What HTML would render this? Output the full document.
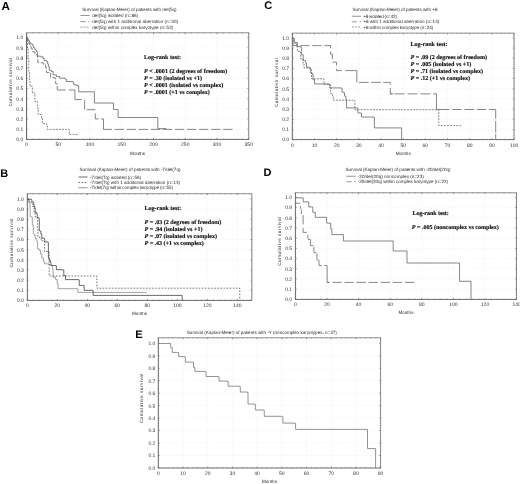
<!DOCTYPE html>
<html><head><meta charset="utf-8"><title>Figure</title>
<style>html,body{margin:0;padding:0;background:#fff}svg{display:block}text{white-space:pre;text-rendering:geometricPrecision}.s{font-family:"Liberation Sans",sans-serif;font-size:4.6px;fill:#2c2c2c}.t{font-family:"Liberation Sans",sans-serif;font-size:5px;fill:#303030}.b{font-family:"Liberation Sans",sans-serif;font-weight:bold}.r{font-family:"Liberation Serif",serif;font-weight:bold;font-size:6.1px;fill:#111;stroke:#111;stroke-width:0.15px}</style></head><body>
<svg width="520" height="484" viewBox="0 0 520 484">
<rect width="520" height="484" fill="#fff"/>
<defs><filter id="f" x="0" y="0" width="520" height="484" filterUnits="userSpaceOnUse"><feGaussianBlur stdDeviation="0.3"/></filter></defs>
<g filter="url(#f)">
<text class="b" x="1.50" y="9.90" style="font-size:11.6px" fill="#000">A</text>
<text class="b" x="0.30" y="177.30" style="font-size:11px" fill="#000">B</text>
<text class="b" x="264.30" y="8.70" style="font-size:11px" fill="#000">C</text>
<text class="b" x="263.40" y="176.10" style="font-size:11px" fill="#000">D</text>
<text class="b" x="135.30" y="337.60" style="font-size:11px" fill="#000">E</text>
<line x1="58.25" y1="32.75" x2="58.25" y2="139.40" stroke="#efefef" stroke-width="0.6" stroke-dasharray="0.7 0.7"/>
<line x1="90.00" y1="32.75" x2="90.00" y2="139.40" stroke="#efefef" stroke-width="0.6" stroke-dasharray="0.7 0.7"/>
<line x1="121.75" y1="32.75" x2="121.75" y2="139.40" stroke="#efefef" stroke-width="0.6" stroke-dasharray="0.7 0.7"/>
<line x1="153.50" y1="32.75" x2="153.50" y2="139.40" stroke="#efefef" stroke-width="0.6" stroke-dasharray="0.7 0.7"/>
<line x1="185.25" y1="32.75" x2="185.25" y2="139.40" stroke="#efefef" stroke-width="0.6" stroke-dasharray="0.7 0.7"/>
<line x1="217.00" y1="32.75" x2="217.00" y2="139.40" stroke="#efefef" stroke-width="0.6" stroke-dasharray="0.7 0.7"/>
<line x1="26.50" y1="129.22" x2="248.75" y2="129.22" stroke="#efefef" stroke-width="0.6" stroke-dasharray="0.7 0.7"/>
<line x1="26.50" y1="119.04" x2="248.75" y2="119.04" stroke="#efefef" stroke-width="0.6" stroke-dasharray="0.7 0.7"/>
<line x1="26.50" y1="108.86" x2="248.75" y2="108.86" stroke="#efefef" stroke-width="0.6" stroke-dasharray="0.7 0.7"/>
<line x1="26.50" y1="98.68" x2="248.75" y2="98.68" stroke="#efefef" stroke-width="0.6" stroke-dasharray="0.7 0.7"/>
<line x1="26.50" y1="88.50" x2="248.75" y2="88.50" stroke="#efefef" stroke-width="0.6" stroke-dasharray="0.7 0.7"/>
<line x1="26.50" y1="78.32" x2="248.75" y2="78.32" stroke="#efefef" stroke-width="0.6" stroke-dasharray="0.7 0.7"/>
<line x1="26.50" y1="68.14" x2="248.75" y2="68.14" stroke="#efefef" stroke-width="0.6" stroke-dasharray="0.7 0.7"/>
<line x1="26.50" y1="57.96" x2="248.75" y2="57.96" stroke="#efefef" stroke-width="0.6" stroke-dasharray="0.7 0.7"/>
<line x1="26.50" y1="47.78" x2="248.75" y2="47.78" stroke="#efefef" stroke-width="0.6" stroke-dasharray="0.7 0.7"/>
<line x1="26.50" y1="37.60" x2="248.75" y2="37.60" stroke="#efefef" stroke-width="0.6" stroke-dasharray="0.7 0.7"/>
<path d="M26.50 32.75H248.75V139.40" fill="none" stroke="#909090" stroke-width="1.0"/>
<path d="M26.50 32.75V139.40H248.75" fill="none" stroke="#6c6c6c" stroke-width="1.0"/>
<path d="M26.50 139.40v-1.30M26.50 32.75v1.30" stroke="#555" stroke-width="0.7"/>
<path d="M58.25 139.40v-1.30M58.25 32.75v1.30" stroke="#555" stroke-width="0.7"/>
<path d="M90.00 139.40v-1.30M90.00 32.75v1.30" stroke="#555" stroke-width="0.7"/>
<path d="M121.75 139.40v-1.30M121.75 32.75v1.30" stroke="#555" stroke-width="0.7"/>
<path d="M153.50 139.40v-1.30M153.50 32.75v1.30" stroke="#555" stroke-width="0.7"/>
<path d="M185.25 139.40v-1.30M185.25 32.75v1.30" stroke="#555" stroke-width="0.7"/>
<path d="M217.00 139.40v-1.30M217.00 32.75v1.30" stroke="#555" stroke-width="0.7"/>
<path d="M248.75 139.40v-1.30M248.75 32.75v1.30" stroke="#555" stroke-width="0.7"/>
<path d="M26.50 139.40h1.30M248.75 139.40h-1.30" stroke="#555" stroke-width="0.7"/>
<path d="M26.50 129.22h1.30M248.75 129.22h-1.30" stroke="#555" stroke-width="0.7"/>
<path d="M26.50 119.04h1.30M248.75 119.04h-1.30" stroke="#555" stroke-width="0.7"/>
<path d="M26.50 108.86h1.30M248.75 108.86h-1.30" stroke="#555" stroke-width="0.7"/>
<path d="M26.50 98.68h1.30M248.75 98.68h-1.30" stroke="#555" stroke-width="0.7"/>
<path d="M26.50 88.50h1.30M248.75 88.50h-1.30" stroke="#555" stroke-width="0.7"/>
<path d="M26.50 78.32h1.30M248.75 78.32h-1.30" stroke="#555" stroke-width="0.7"/>
<path d="M26.50 68.14h1.30M248.75 68.14h-1.30" stroke="#555" stroke-width="0.7"/>
<path d="M26.50 57.96h1.30M248.75 57.96h-1.30" stroke="#555" stroke-width="0.7"/>
<path d="M26.50 47.78h1.30M248.75 47.78h-1.30" stroke="#555" stroke-width="0.7"/>
<path d="M26.50 37.60h1.30M248.75 37.60h-1.30" stroke="#555" stroke-width="0.7"/>
<path d="M26.50 137.36h0.80M248.75 137.36h-0.80M26.50 135.33h0.80M248.75 135.33h-0.80M26.50 133.29h0.80M248.75 133.29h-0.80M26.50 131.26h0.80M248.75 131.26h-0.80M26.50 127.18h0.80M248.75 127.18h-0.80M26.50 125.15h0.80M248.75 125.15h-0.80M26.50 123.11h0.80M248.75 123.11h-0.80M26.50 121.08h0.80M248.75 121.08h-0.80M26.50 117.00h0.80M248.75 117.00h-0.80M26.50 114.97h0.80M248.75 114.97h-0.80M26.50 112.93h0.80M248.75 112.93h-0.80M26.50 110.90h0.80M248.75 110.90h-0.80M26.50 106.82h0.80M248.75 106.82h-0.80M26.50 104.79h0.80M248.75 104.79h-0.80M26.50 102.75h0.80M248.75 102.75h-0.80M26.50 100.72h0.80M248.75 100.72h-0.80M26.50 96.64h0.80M248.75 96.64h-0.80M26.50 94.61h0.80M248.75 94.61h-0.80M26.50 92.57h0.80M248.75 92.57h-0.80M26.50 90.54h0.80M248.75 90.54h-0.80M26.50 86.46h0.80M248.75 86.46h-0.80M26.50 84.43h0.80M248.75 84.43h-0.80M26.50 82.39h0.80M248.75 82.39h-0.80M26.50 80.36h0.80M248.75 80.36h-0.80M26.50 76.28h0.80M248.75 76.28h-0.80M26.50 74.25h0.80M248.75 74.25h-0.80M26.50 72.21h0.80M248.75 72.21h-0.80M26.50 70.18h0.80M248.75 70.18h-0.80M26.50 66.10h0.80M248.75 66.10h-0.80M26.50 64.07h0.80M248.75 64.07h-0.80M26.50 62.03h0.80M248.75 62.03h-0.80M26.50 60.00h0.80M248.75 60.00h-0.80M26.50 55.92h0.80M248.75 55.92h-0.80M26.50 53.89h0.80M248.75 53.89h-0.80M26.50 51.85h0.80M248.75 51.85h-0.80M26.50 49.82h0.80M248.75 49.82h-0.80M26.50 45.74h0.80M248.75 45.74h-0.80M26.50 43.71h0.80M248.75 43.71h-0.80M26.50 41.67h0.80M248.75 41.67h-0.80M26.50 39.64h0.80M248.75 39.64h-0.80M26.50 35.56h0.80M248.75 35.56h-0.80M26.50 33.53h0.80M248.75 33.53h-0.80M32.85 139.40v-0.80M32.85 32.75v0.80M39.20 139.40v-0.80M39.20 32.75v0.80M45.55 139.40v-0.80M45.55 32.75v0.80M51.90 139.40v-0.80M51.90 32.75v0.80M64.60 139.40v-0.80M64.60 32.75v0.80M70.95 139.40v-0.80M70.95 32.75v0.80M77.30 139.40v-0.80M77.30 32.75v0.80M83.65 139.40v-0.80M83.65 32.75v0.80M96.35 139.40v-0.80M96.35 32.75v0.80M102.70 139.40v-0.80M102.70 32.75v0.80M109.05 139.40v-0.80M109.05 32.75v0.80M115.40 139.40v-0.80M115.40 32.75v0.80M128.10 139.40v-0.80M128.10 32.75v0.80M134.45 139.40v-0.80M134.45 32.75v0.80M140.80 139.40v-0.80M140.80 32.75v0.80M147.15 139.40v-0.80M147.15 32.75v0.80M159.85 139.40v-0.80M159.85 32.75v0.80M166.20 139.40v-0.80M166.20 32.75v0.80M172.55 139.40v-0.80M172.55 32.75v0.80M178.90 139.40v-0.80M178.90 32.75v0.80M191.60 139.40v-0.80M191.60 32.75v0.80M197.95 139.40v-0.80M197.95 32.75v0.80M204.30 139.40v-0.80M204.30 32.75v0.80M210.65 139.40v-0.80M210.65 32.75v0.80M223.35 139.40v-0.80M223.35 32.75v0.80M229.70 139.40v-0.80M229.70 32.75v0.80M236.05 139.40v-0.80M236.05 32.75v0.80M242.40 139.40v-0.80M242.40 32.75v0.80" stroke="#606060" stroke-width="0.55" fill="none"/>
<text class="t" x="26.50" y="146.35" text-anchor="middle">0</text>
<text class="t" x="58.25" y="146.35" text-anchor="middle">50</text>
<text class="t" x="90.00" y="146.35" text-anchor="middle">100</text>
<text class="t" x="121.75" y="146.35" text-anchor="middle">150</text>
<text class="t" x="153.50" y="146.35" text-anchor="middle">200</text>
<text class="t" x="185.25" y="146.35" text-anchor="middle">250</text>
<text class="t" x="217.00" y="146.35" text-anchor="middle">300</text>
<text class="t" x="248.75" y="146.35" text-anchor="middle">350</text>
<text class="t" x="23.30" y="141.25" text-anchor="end">0.0</text>
<text class="t" x="23.30" y="131.07" text-anchor="end">0.1</text>
<text class="t" x="23.30" y="120.89" text-anchor="end">0.2</text>
<text class="t" x="23.30" y="110.71" text-anchor="end">0.3</text>
<text class="t" x="23.30" y="100.53" text-anchor="end">0.4</text>
<text class="t" x="23.30" y="90.35" text-anchor="end">0.5</text>
<text class="t" x="23.30" y="80.17" text-anchor="end">0.6</text>
<text class="t" x="23.30" y="69.99" text-anchor="end">0.7</text>
<text class="t" x="23.30" y="59.81" text-anchor="end">0.8</text>
<text class="t" x="23.30" y="49.63" text-anchor="end">0.9</text>
<text class="t" x="23.30" y="39.45" text-anchor="end">1.0</text>
<text class="s" x="137.62" y="154.60" text-anchor="middle">Months</text>
<text class="s" x="12.00" y="82.20" text-anchor="middle" textLength="48.60" lengthAdjust="spacing" transform="rotate(-90 12.00 82.20)">Cumulative survival</text>
<text class="s" x="129.40" y="11.20" text-anchor="middle" textLength="94.20" lengthAdjust="spacing">Survival (Kaplan-Meier) of patients with del(5q)</text>
<line x1="80.40" y1="15.50" x2="89.60" y2="15.50" stroke="#686868" stroke-width="0.7"/>
<text class="s" x="92.30" y="17.10" textLength="45.70" lengthAdjust="spacing">del(5q) isolated (n=86)</text>
<line x1="80.40" y1="21.60" x2="89.60" y2="21.60" stroke="#686868" stroke-width="0.7" stroke-dasharray="5.2 2.7"/>
<text class="s" x="92.30" y="23.20" textLength="85.70" lengthAdjust="spacing">del(5q) with 1 additional aberration (n=30)</text>
<line x1="80.40" y1="27.10" x2="89.60" y2="27.10" stroke="#686868" stroke-width="0.7" stroke-dasharray="1.9 1.2"/>
<text class="s" x="92.30" y="28.70" textLength="80.90" lengthAdjust="spacing">del(5q) within complex karyotype (n=52)</text>
<text class="r" x="144.00" y="58.90" textLength="37.00" lengthAdjust="spacing">Log-rank test:</text>
<text class="r" x="144.00" y="73.00" textLength="83.20" lengthAdjust="spacing"><tspan font-style="italic">P</tspan> &lt; .0001 (2 degrees of freedom)</text>
<text class="r" x="144.00" y="80.00" textLength="58.00" lengthAdjust="spacing"><tspan font-style="italic">P</tspan> = .30 (isolated vs +1)</text>
<text class="r" x="144.00" y="87.00" textLength="79.20" lengthAdjust="spacing"><tspan font-style="italic">P</tspan> &lt; .0001 (isolated vs complex)</text>
<text class="r" x="144.00" y="94.00" textLength="65.80" lengthAdjust="spacing"><tspan font-style="italic">P</tspan> = .0001 (+1 vs complex)</text>
<path d="M26.50 37.90H26.90V40.00H27.50V48.75H28.10V58.75H28.75V71.25H29.40V80.00H30.00V86.40H32.40V93.00H34.90V101.30H37.40V108.00H38.20V114.50H41.50V117.80H42.40V123.60H46.50V124.50H47.30V129.40H68.80V129.40H69.30V134.40H78.70V134.40" fill="none" stroke="#686868" stroke-width="0.8" stroke-dasharray="1.9 1.2" stroke-linecap="butt"/>
<path d="M26.50 37.40H27.10V38.90H27.70V40.40H28.40V42.00H29.00V43.60H29.60V44.80H30.20V46.00H30.80V47.30H31.40V48.60H32.30V51.40H33.10V51.90H35.00V53.50H36.40V55.00H37.60V57.60H37.80V62.70H43.00V63.40H43.80V64.60H45.50V67.50H46.50V72.50H49.40V73.10H50.60V77.50H54.40V78.10H55.60V83.75H57.20V89.75" fill="none" stroke="#686868" stroke-width="0.8" stroke-dasharray="5 1.6" stroke-linecap="butt"/>
<path d="M57.20 90.00L65.50 90.00M68.80 90.00L74.90 90.00M74.90 90.00L74.90 99.60M74.90 99.60L81.80 99.60M84.60 100.20L84.60 109.50M86.60 109.70L95.30 109.70M95.30 113.40L95.30 118.90M95.30 118.90L98.60 118.90M101.10 118.90L103.50 118.90M103.50 118.90L103.50 129.40M103.50 129.40L111.93 129.40M114.59 129.40L123.99 129.40M126.65 129.40L136.05 129.40M138.71 129.40L148.11 129.40M150.77 129.40L160.17 129.40M162.83 129.40L172.23 129.40M174.89 129.40L184.29 129.40M186.95 129.40L196.35 129.40M199.01 129.40L208.41 129.40M211.07 129.40L220.47 129.40M223.13 129.40L232.53 129.40" fill="none" stroke="#686868" stroke-width="0.8"/>
<path d="M26.50 37.40H27.30V38.60H28.10V39.80H29.00V41.10H29.60V42.40H30.20V43.80H32.30V44.50H32.90V46.00H33.50V47.70H34.70V49.30H36.00V51.00H37.20V52.70H37.60V56.20H40.90V56.90H43.00V58.50H44.20V60.50H46.30V61.40H47.60V63.80H48.40V66.70H49.30V70.30H51.30V71.50H53.10V74.90H56.40V76.50H59.70V78.20H64.70V79.00H66.30V81.50H72.90V82.30H73.80V84.80H77.00V85.60H78.70V91.80H94.40V91.80H94.40V103.00H113.50V103.00H113.50V109.60H118.10V109.60H118.10V117.50H157.80V117.50H157.80V128.60H166.40V128.60" fill="none" stroke="#686868" stroke-width="0.8" stroke-linecap="butt"/>
<line x1="57.30" y1="193.70" x2="57.30" y2="300.40" stroke="#efefef" stroke-width="0.6" stroke-dasharray="0.7 0.7"/>
<line x1="87.30" y1="193.70" x2="87.30" y2="300.40" stroke="#efefef" stroke-width="0.6" stroke-dasharray="0.7 0.7"/>
<line x1="117.30" y1="193.70" x2="117.30" y2="300.40" stroke="#efefef" stroke-width="0.6" stroke-dasharray="0.7 0.7"/>
<line x1="147.30" y1="193.70" x2="147.30" y2="300.40" stroke="#efefef" stroke-width="0.6" stroke-dasharray="0.7 0.7"/>
<line x1="177.30" y1="193.70" x2="177.30" y2="300.40" stroke="#efefef" stroke-width="0.6" stroke-dasharray="0.7 0.7"/>
<line x1="207.30" y1="193.70" x2="207.30" y2="300.40" stroke="#efefef" stroke-width="0.6" stroke-dasharray="0.7 0.7"/>
<line x1="237.30" y1="193.70" x2="237.30" y2="300.40" stroke="#efefef" stroke-width="0.6" stroke-dasharray="0.7 0.7"/>
<line x1="27.30" y1="290.25" x2="251.90" y2="290.25" stroke="#efefef" stroke-width="0.6" stroke-dasharray="0.7 0.7"/>
<line x1="27.30" y1="280.10" x2="251.90" y2="280.10" stroke="#efefef" stroke-width="0.6" stroke-dasharray="0.7 0.7"/>
<line x1="27.30" y1="269.95" x2="251.90" y2="269.95" stroke="#efefef" stroke-width="0.6" stroke-dasharray="0.7 0.7"/>
<line x1="27.30" y1="259.80" x2="251.90" y2="259.80" stroke="#efefef" stroke-width="0.6" stroke-dasharray="0.7 0.7"/>
<line x1="27.30" y1="249.65" x2="251.90" y2="249.65" stroke="#efefef" stroke-width="0.6" stroke-dasharray="0.7 0.7"/>
<line x1="27.30" y1="239.50" x2="251.90" y2="239.50" stroke="#efefef" stroke-width="0.6" stroke-dasharray="0.7 0.7"/>
<line x1="27.30" y1="229.35" x2="251.90" y2="229.35" stroke="#efefef" stroke-width="0.6" stroke-dasharray="0.7 0.7"/>
<line x1="27.30" y1="219.20" x2="251.90" y2="219.20" stroke="#efefef" stroke-width="0.6" stroke-dasharray="0.7 0.7"/>
<line x1="27.30" y1="209.05" x2="251.90" y2="209.05" stroke="#efefef" stroke-width="0.6" stroke-dasharray="0.7 0.7"/>
<line x1="27.30" y1="198.90" x2="251.90" y2="198.90" stroke="#efefef" stroke-width="0.6" stroke-dasharray="0.7 0.7"/>
<path d="M27.30 193.70H251.90V300.40" fill="none" stroke="#909090" stroke-width="1.0"/>
<path d="M27.30 193.70V300.40H251.90" fill="none" stroke="#6c6c6c" stroke-width="1.0"/>
<path d="M27.30 300.40v-1.30M27.30 193.70v1.30" stroke="#555" stroke-width="0.7"/>
<path d="M57.30 300.40v-1.30M57.30 193.70v1.30" stroke="#555" stroke-width="0.7"/>
<path d="M87.30 300.40v-1.30M87.30 193.70v1.30" stroke="#555" stroke-width="0.7"/>
<path d="M117.30 300.40v-1.30M117.30 193.70v1.30" stroke="#555" stroke-width="0.7"/>
<path d="M147.30 300.40v-1.30M147.30 193.70v1.30" stroke="#555" stroke-width="0.7"/>
<path d="M177.30 300.40v-1.30M177.30 193.70v1.30" stroke="#555" stroke-width="0.7"/>
<path d="M207.30 300.40v-1.30M207.30 193.70v1.30" stroke="#555" stroke-width="0.7"/>
<path d="M237.30 300.40v-1.30M237.30 193.70v1.30" stroke="#555" stroke-width="0.7"/>
<path d="M27.30 300.40h1.30M251.90 300.40h-1.30" stroke="#555" stroke-width="0.7"/>
<path d="M27.30 290.25h1.30M251.90 290.25h-1.30" stroke="#555" stroke-width="0.7"/>
<path d="M27.30 280.10h1.30M251.90 280.10h-1.30" stroke="#555" stroke-width="0.7"/>
<path d="M27.30 269.95h1.30M251.90 269.95h-1.30" stroke="#555" stroke-width="0.7"/>
<path d="M27.30 259.80h1.30M251.90 259.80h-1.30" stroke="#555" stroke-width="0.7"/>
<path d="M27.30 249.65h1.30M251.90 249.65h-1.30" stroke="#555" stroke-width="0.7"/>
<path d="M27.30 239.50h1.30M251.90 239.50h-1.30" stroke="#555" stroke-width="0.7"/>
<path d="M27.30 229.35h1.30M251.90 229.35h-1.30" stroke="#555" stroke-width="0.7"/>
<path d="M27.30 219.20h1.30M251.90 219.20h-1.30" stroke="#555" stroke-width="0.7"/>
<path d="M27.30 209.05h1.30M251.90 209.05h-1.30" stroke="#555" stroke-width="0.7"/>
<path d="M27.30 198.90h1.30M251.90 198.90h-1.30" stroke="#555" stroke-width="0.7"/>
<path d="M27.30 298.37h0.80M251.90 298.37h-0.80M27.30 296.34h0.80M251.90 296.34h-0.80M27.30 294.31h0.80M251.90 294.31h-0.80M27.30 292.28h0.80M251.90 292.28h-0.80M27.30 288.22h0.80M251.90 288.22h-0.80M27.30 286.19h0.80M251.90 286.19h-0.80M27.30 284.16h0.80M251.90 284.16h-0.80M27.30 282.13h0.80M251.90 282.13h-0.80M27.30 278.07h0.80M251.90 278.07h-0.80M27.30 276.04h0.80M251.90 276.04h-0.80M27.30 274.01h0.80M251.90 274.01h-0.80M27.30 271.98h0.80M251.90 271.98h-0.80M27.30 267.92h0.80M251.90 267.92h-0.80M27.30 265.89h0.80M251.90 265.89h-0.80M27.30 263.86h0.80M251.90 263.86h-0.80M27.30 261.83h0.80M251.90 261.83h-0.80M27.30 257.77h0.80M251.90 257.77h-0.80M27.30 255.74h0.80M251.90 255.74h-0.80M27.30 253.71h0.80M251.90 253.71h-0.80M27.30 251.68h0.80M251.90 251.68h-0.80M27.30 247.62h0.80M251.90 247.62h-0.80M27.30 245.59h0.80M251.90 245.59h-0.80M27.30 243.56h0.80M251.90 243.56h-0.80M27.30 241.53h0.80M251.90 241.53h-0.80M27.30 237.47h0.80M251.90 237.47h-0.80M27.30 235.44h0.80M251.90 235.44h-0.80M27.30 233.41h0.80M251.90 233.41h-0.80M27.30 231.38h0.80M251.90 231.38h-0.80M27.30 227.32h0.80M251.90 227.32h-0.80M27.30 225.29h0.80M251.90 225.29h-0.80M27.30 223.26h0.80M251.90 223.26h-0.80M27.30 221.23h0.80M251.90 221.23h-0.80M27.30 217.17h0.80M251.90 217.17h-0.80M27.30 215.14h0.80M251.90 215.14h-0.80M27.30 213.11h0.80M251.90 213.11h-0.80M27.30 211.08h0.80M251.90 211.08h-0.80M27.30 207.02h0.80M251.90 207.02h-0.80M27.30 204.99h0.80M251.90 204.99h-0.80M27.30 202.96h0.80M251.90 202.96h-0.80M27.30 200.93h0.80M251.90 200.93h-0.80M27.30 196.87h0.80M251.90 196.87h-0.80M27.30 194.84h0.80M251.90 194.84h-0.80M33.30 300.40v-0.80M33.30 193.70v0.80M39.30 300.40v-0.80M39.30 193.70v0.80M45.30 300.40v-0.80M45.30 193.70v0.80M51.30 300.40v-0.80M51.30 193.70v0.80M63.30 300.40v-0.80M63.30 193.70v0.80M69.30 300.40v-0.80M69.30 193.70v0.80M75.30 300.40v-0.80M75.30 193.70v0.80M81.30 300.40v-0.80M81.30 193.70v0.80M93.30 300.40v-0.80M93.30 193.70v0.80M99.30 300.40v-0.80M99.30 193.70v0.80M105.30 300.40v-0.80M105.30 193.70v0.80M111.30 300.40v-0.80M111.30 193.70v0.80M123.30 300.40v-0.80M123.30 193.70v0.80M129.30 300.40v-0.80M129.30 193.70v0.80M135.30 300.40v-0.80M135.30 193.70v0.80M141.30 300.40v-0.80M141.30 193.70v0.80M153.30 300.40v-0.80M153.30 193.70v0.80M159.30 300.40v-0.80M159.30 193.70v0.80M165.30 300.40v-0.80M165.30 193.70v0.80M171.30 300.40v-0.80M171.30 193.70v0.80M183.30 300.40v-0.80M183.30 193.70v0.80M189.30 300.40v-0.80M189.30 193.70v0.80M195.30 300.40v-0.80M195.30 193.70v0.80M201.30 300.40v-0.80M201.30 193.70v0.80M213.30 300.40v-0.80M213.30 193.70v0.80M219.30 300.40v-0.80M219.30 193.70v0.80M225.30 300.40v-0.80M225.30 193.70v0.80M231.30 300.40v-0.80M231.30 193.70v0.80M243.30 300.40v-0.80M243.30 193.70v0.80M249.30 300.40v-0.80M249.30 193.70v0.80" stroke="#606060" stroke-width="0.55" fill="none"/>
<text class="t" x="27.30" y="307.25" text-anchor="middle">0</text>
<text class="t" x="57.30" y="307.25" text-anchor="middle">20</text>
<text class="t" x="87.30" y="307.25" text-anchor="middle">40</text>
<text class="t" x="117.30" y="307.25" text-anchor="middle">60</text>
<text class="t" x="147.30" y="307.25" text-anchor="middle">80</text>
<text class="t" x="177.30" y="307.25" text-anchor="middle">100</text>
<text class="t" x="207.30" y="307.25" text-anchor="middle">120</text>
<text class="t" x="237.30" y="307.25" text-anchor="middle">140</text>
<text class="t" x="23.90" y="302.25" text-anchor="end">0.0</text>
<text class="t" x="23.90" y="292.10" text-anchor="end">0.1</text>
<text class="t" x="23.90" y="281.95" text-anchor="end">0.2</text>
<text class="t" x="23.90" y="271.80" text-anchor="end">0.3</text>
<text class="t" x="23.90" y="261.65" text-anchor="end">0.4</text>
<text class="t" x="23.90" y="251.50" text-anchor="end">0.5</text>
<text class="t" x="23.90" y="241.35" text-anchor="end">0.6</text>
<text class="t" x="23.90" y="231.20" text-anchor="end">0.7</text>
<text class="t" x="23.90" y="221.05" text-anchor="end">0.8</text>
<text class="t" x="23.90" y="210.90" text-anchor="end">0.9</text>
<text class="t" x="23.90" y="200.75" text-anchor="end">1.0</text>
<text class="s" x="139.60" y="315.00" text-anchor="middle">Months</text>
<text class="s" x="12.80" y="243.05" text-anchor="middle" textLength="48.90" lengthAdjust="spacing" transform="rotate(-90 12.80 243.05)">Cumulative survival</text>
<text class="s" x="130.00" y="171.40" text-anchor="middle" textLength="101.00" lengthAdjust="spacing">Survival (Kaplan-Meier) of patients with -7/del(7q)</text>
<line x1="78.40" y1="177.00" x2="87.60" y2="177.00" stroke="#333" stroke-width="0.7"/>
<text class="s" x="90.10" y="178.60" textLength="50.90" lengthAdjust="spacing">-7/del(7q) isolated (n=56)</text>
<line x1="78.40" y1="182.50" x2="87.60" y2="182.50" stroke="#333" stroke-width="0.7" stroke-dasharray="1.6 1.5"/>
<text class="s" x="90.10" y="184.10" textLength="89.90" lengthAdjust="spacing">-7/del(7q) with 1 additional aberration (n=13)</text>
<line x1="78.40" y1="187.75" x2="87.60" y2="187.75" stroke="#686868" stroke-width="0.7"/>
<text class="s" x="90.10" y="189.35" textLength="82.90" lengthAdjust="spacing">-7/del(7q) within complex karyotype (n=55)</text>
<text class="r" x="144.50" y="209.50" textLength="36.75" lengthAdjust="spacing">Log-rank test:</text>
<text class="r" x="144.50" y="224.00" textLength="76.75" lengthAdjust="spacing"><tspan font-style="italic">P</tspan> = .03 (2 degrees of freedom)</text>
<text class="r" x="144.50" y="231.00" textLength="58.00" lengthAdjust="spacing"><tspan font-style="italic">P</tspan> = .94 (isolated vs +1)</text>
<text class="r" x="144.50" y="238.00" textLength="72.50" lengthAdjust="spacing"><tspan font-style="italic">P</tspan> = .07 (isolated vs complex)</text>
<text class="r" x="144.50" y="245.00" textLength="59.25" lengthAdjust="spacing"><tspan font-style="italic">P</tspan> = .43 (+1 vs complex)</text>
<path d="M27.50 199.40H28.90V202.70H29.80V206.90H30.20V216.80H32.30V225.00H33.30V234.10H34.70V235.70H35.60V239.00H36.80V241.50H37.60V249.00H39.70V250.60H40.50V253.90H41.80V258.00H43.40V261.40H44.70V263.80H48.80V264.70H49.80V265.20H52.30V268.80H53.10V277.10H55.60V279.60H57.20V283.70H58.10V288.70H77.10V288.70H77.90V292.40H146.80V292.40" fill="none" stroke="#8c8c8c" stroke-width="0.8" stroke-linecap="butt"/>
<path d="M27.50 199.00H29.10V202.40H31.60V203.20H32.40V206.50H34.10V212.30H35.20V217.30H37.40V218.10H37.40V228.00H37.90V237.40H40.70V238.30H41.20V240.70H44.00V241.60H44.50V251.50H48.10V251.80H49.20V276.00H96.10V276.00H96.90V288.20H239.75V288.20H239.75V300.40" fill="none" stroke="#484848" stroke-width="0.75" stroke-dasharray="1.6 1.5" stroke-linecap="butt"/>
<path d="M27.50 199.30H31.40V199.80H31.90V201.90H33.50V202.70H33.90V206.00H34.70V208.10H35.20V212.20H36.40V213.50H37.20V217.60H38.90V219.30H39.30V230.80H40.10V231.20H40.90V234.10H41.80V238.20H44.20V238.60H44.70V241.90H48.00V242.40H48.40V258.00H49.20V260.50H50.40V262.20H50.90V264.90H51.40V265.50H55.60V266.00H56.40V269.70H63.00V270.20H63.80V275.50H65.50V279.60H78.70V280.00H79.20V285.40H83.70V285.90H84.20V290.30H92.80V290.70H93.10V295.40H182.20V295.40H182.20V300.40" fill="none" stroke="#383838" stroke-width="0.75" stroke-linecap="butt"/>
<line x1="314.48" y1="33.10" x2="314.48" y2="139.60" stroke="#efefef" stroke-width="0.6" stroke-dasharray="0.7 0.7"/>
<line x1="336.66" y1="33.10" x2="336.66" y2="139.60" stroke="#efefef" stroke-width="0.6" stroke-dasharray="0.7 0.7"/>
<line x1="358.84" y1="33.10" x2="358.84" y2="139.60" stroke="#efefef" stroke-width="0.6" stroke-dasharray="0.7 0.7"/>
<line x1="381.02" y1="33.10" x2="381.02" y2="139.60" stroke="#efefef" stroke-width="0.6" stroke-dasharray="0.7 0.7"/>
<line x1="403.20" y1="33.10" x2="403.20" y2="139.60" stroke="#efefef" stroke-width="0.6" stroke-dasharray="0.7 0.7"/>
<line x1="425.38" y1="33.10" x2="425.38" y2="139.60" stroke="#efefef" stroke-width="0.6" stroke-dasharray="0.7 0.7"/>
<line x1="447.56" y1="33.10" x2="447.56" y2="139.60" stroke="#efefef" stroke-width="0.6" stroke-dasharray="0.7 0.7"/>
<line x1="469.74" y1="33.10" x2="469.74" y2="139.60" stroke="#efefef" stroke-width="0.6" stroke-dasharray="0.7 0.7"/>
<line x1="491.92" y1="33.10" x2="491.92" y2="139.60" stroke="#efefef" stroke-width="0.6" stroke-dasharray="0.7 0.7"/>
<line x1="292.30" y1="129.43" x2="514.10" y2="129.43" stroke="#efefef" stroke-width="0.6" stroke-dasharray="0.7 0.7"/>
<line x1="292.30" y1="119.26" x2="514.10" y2="119.26" stroke="#efefef" stroke-width="0.6" stroke-dasharray="0.7 0.7"/>
<line x1="292.30" y1="109.09" x2="514.10" y2="109.09" stroke="#efefef" stroke-width="0.6" stroke-dasharray="0.7 0.7"/>
<line x1="292.30" y1="98.92" x2="514.10" y2="98.92" stroke="#efefef" stroke-width="0.6" stroke-dasharray="0.7 0.7"/>
<line x1="292.30" y1="88.75" x2="514.10" y2="88.75" stroke="#efefef" stroke-width="0.6" stroke-dasharray="0.7 0.7"/>
<line x1="292.30" y1="78.58" x2="514.10" y2="78.58" stroke="#efefef" stroke-width="0.6" stroke-dasharray="0.7 0.7"/>
<line x1="292.30" y1="68.41" x2="514.10" y2="68.41" stroke="#efefef" stroke-width="0.6" stroke-dasharray="0.7 0.7"/>
<line x1="292.30" y1="58.24" x2="514.10" y2="58.24" stroke="#efefef" stroke-width="0.6" stroke-dasharray="0.7 0.7"/>
<line x1="292.30" y1="48.07" x2="514.10" y2="48.07" stroke="#efefef" stroke-width="0.6" stroke-dasharray="0.7 0.7"/>
<line x1="292.30" y1="37.90" x2="514.10" y2="37.90" stroke="#efefef" stroke-width="0.6" stroke-dasharray="0.7 0.7"/>
<path d="M292.30 33.10H514.10V139.60" fill="none" stroke="#909090" stroke-width="1.0"/>
<path d="M292.30 33.10V139.60H514.10" fill="none" stroke="#6c6c6c" stroke-width="1.0"/>
<path d="M292.30 139.60v-1.30M292.30 33.10v1.30" stroke="#555" stroke-width="0.7"/>
<path d="M314.48 139.60v-1.30M314.48 33.10v1.30" stroke="#555" stroke-width="0.7"/>
<path d="M336.66 139.60v-1.30M336.66 33.10v1.30" stroke="#555" stroke-width="0.7"/>
<path d="M358.84 139.60v-1.30M358.84 33.10v1.30" stroke="#555" stroke-width="0.7"/>
<path d="M381.02 139.60v-1.30M381.02 33.10v1.30" stroke="#555" stroke-width="0.7"/>
<path d="M403.20 139.60v-1.30M403.20 33.10v1.30" stroke="#555" stroke-width="0.7"/>
<path d="M425.38 139.60v-1.30M425.38 33.10v1.30" stroke="#555" stroke-width="0.7"/>
<path d="M447.56 139.60v-1.30M447.56 33.10v1.30" stroke="#555" stroke-width="0.7"/>
<path d="M469.74 139.60v-1.30M469.74 33.10v1.30" stroke="#555" stroke-width="0.7"/>
<path d="M491.92 139.60v-1.30M491.92 33.10v1.30" stroke="#555" stroke-width="0.7"/>
<path d="M514.10 139.60v-1.30M514.10 33.10v1.30" stroke="#555" stroke-width="0.7"/>
<path d="M292.30 139.60h1.30M514.10 139.60h-1.30" stroke="#555" stroke-width="0.7"/>
<path d="M292.30 129.43h1.30M514.10 129.43h-1.30" stroke="#555" stroke-width="0.7"/>
<path d="M292.30 119.26h1.30M514.10 119.26h-1.30" stroke="#555" stroke-width="0.7"/>
<path d="M292.30 109.09h1.30M514.10 109.09h-1.30" stroke="#555" stroke-width="0.7"/>
<path d="M292.30 98.92h1.30M514.10 98.92h-1.30" stroke="#555" stroke-width="0.7"/>
<path d="M292.30 88.75h1.30M514.10 88.75h-1.30" stroke="#555" stroke-width="0.7"/>
<path d="M292.30 78.58h1.30M514.10 78.58h-1.30" stroke="#555" stroke-width="0.7"/>
<path d="M292.30 68.41h1.30M514.10 68.41h-1.30" stroke="#555" stroke-width="0.7"/>
<path d="M292.30 58.24h1.30M514.10 58.24h-1.30" stroke="#555" stroke-width="0.7"/>
<path d="M292.30 48.07h1.30M514.10 48.07h-1.30" stroke="#555" stroke-width="0.7"/>
<path d="M292.30 37.90h1.30M514.10 37.90h-1.30" stroke="#555" stroke-width="0.7"/>
<path d="M292.30 137.57h0.80M514.10 137.57h-0.80M292.30 135.53h0.80M514.10 135.53h-0.80M292.30 133.50h0.80M514.10 133.50h-0.80M292.30 131.46h0.80M514.10 131.46h-0.80M292.30 127.40h0.80M514.10 127.40h-0.80M292.30 125.36h0.80M514.10 125.36h-0.80M292.30 123.33h0.80M514.10 123.33h-0.80M292.30 121.29h0.80M514.10 121.29h-0.80M292.30 117.23h0.80M514.10 117.23h-0.80M292.30 115.19h0.80M514.10 115.19h-0.80M292.30 113.16h0.80M514.10 113.16h-0.80M292.30 111.12h0.80M514.10 111.12h-0.80M292.30 107.06h0.80M514.10 107.06h-0.80M292.30 105.02h0.80M514.10 105.02h-0.80M292.30 102.99h0.80M514.10 102.99h-0.80M292.30 100.95h0.80M514.10 100.95h-0.80M292.30 96.89h0.80M514.10 96.89h-0.80M292.30 94.85h0.80M514.10 94.85h-0.80M292.30 92.82h0.80M514.10 92.82h-0.80M292.30 90.78h0.80M514.10 90.78h-0.80M292.30 86.72h0.80M514.10 86.72h-0.80M292.30 84.68h0.80M514.10 84.68h-0.80M292.30 82.65h0.80M514.10 82.65h-0.80M292.30 80.61h0.80M514.10 80.61h-0.80M292.30 76.55h0.80M514.10 76.55h-0.80M292.30 74.51h0.80M514.10 74.51h-0.80M292.30 72.48h0.80M514.10 72.48h-0.80M292.30 70.44h0.80M514.10 70.44h-0.80M292.30 66.38h0.80M514.10 66.38h-0.80M292.30 64.34h0.80M514.10 64.34h-0.80M292.30 62.31h0.80M514.10 62.31h-0.80M292.30 60.27h0.80M514.10 60.27h-0.80M292.30 56.21h0.80M514.10 56.21h-0.80M292.30 54.17h0.80M514.10 54.17h-0.80M292.30 52.14h0.80M514.10 52.14h-0.80M292.30 50.10h0.80M514.10 50.10h-0.80M292.30 46.04h0.80M514.10 46.04h-0.80M292.30 44.00h0.80M514.10 44.00h-0.80M292.30 41.97h0.80M514.10 41.97h-0.80M292.30 39.93h0.80M514.10 39.93h-0.80M292.30 35.87h0.80M514.10 35.87h-0.80M292.30 33.83h0.80M514.10 33.83h-0.80M296.74 139.60v-0.80M296.74 33.10v0.80M301.17 139.60v-0.80M301.17 33.10v0.80M305.61 139.60v-0.80M305.61 33.10v0.80M310.04 139.60v-0.80M310.04 33.10v0.80M318.92 139.60v-0.80M318.92 33.10v0.80M323.35 139.60v-0.80M323.35 33.10v0.80M327.79 139.60v-0.80M327.79 33.10v0.80M332.22 139.60v-0.80M332.22 33.10v0.80M341.10 139.60v-0.80M341.10 33.10v0.80M345.53 139.60v-0.80M345.53 33.10v0.80M349.97 139.60v-0.80M349.97 33.10v0.80M354.40 139.60v-0.80M354.40 33.10v0.80M363.28 139.60v-0.80M363.28 33.10v0.80M367.71 139.60v-0.80M367.71 33.10v0.80M372.15 139.60v-0.80M372.15 33.10v0.80M376.58 139.60v-0.80M376.58 33.10v0.80M385.46 139.60v-0.80M385.46 33.10v0.80M389.89 139.60v-0.80M389.89 33.10v0.80M394.33 139.60v-0.80M394.33 33.10v0.80M398.76 139.60v-0.80M398.76 33.10v0.80M407.64 139.60v-0.80M407.64 33.10v0.80M412.07 139.60v-0.80M412.07 33.10v0.80M416.51 139.60v-0.80M416.51 33.10v0.80M420.94 139.60v-0.80M420.94 33.10v0.80M429.82 139.60v-0.80M429.82 33.10v0.80M434.25 139.60v-0.80M434.25 33.10v0.80M438.69 139.60v-0.80M438.69 33.10v0.80M443.12 139.60v-0.80M443.12 33.10v0.80M452.00 139.60v-0.80M452.00 33.10v0.80M456.43 139.60v-0.80M456.43 33.10v0.80M460.87 139.60v-0.80M460.87 33.10v0.80M465.30 139.60v-0.80M465.30 33.10v0.80M474.18 139.60v-0.80M474.18 33.10v0.80M478.61 139.60v-0.80M478.61 33.10v0.80M483.05 139.60v-0.80M483.05 33.10v0.80M487.48 139.60v-0.80M487.48 33.10v0.80M496.36 139.60v-0.80M496.36 33.10v0.80M500.79 139.60v-0.80M500.79 33.10v0.80M505.23 139.60v-0.80M505.23 33.10v0.80M509.66 139.60v-0.80M509.66 33.10v0.80" stroke="#606060" stroke-width="0.55" fill="none"/>
<text class="t" x="292.30" y="146.75" text-anchor="middle">0</text>
<text class="t" x="314.48" y="146.75" text-anchor="middle">10</text>
<text class="t" x="336.66" y="146.75" text-anchor="middle">20</text>
<text class="t" x="358.84" y="146.75" text-anchor="middle">30</text>
<text class="t" x="381.02" y="146.75" text-anchor="middle">40</text>
<text class="t" x="403.20" y="146.75" text-anchor="middle">50</text>
<text class="t" x="425.38" y="146.75" text-anchor="middle">60</text>
<text class="t" x="447.56" y="146.75" text-anchor="middle">70</text>
<text class="t" x="469.74" y="146.75" text-anchor="middle">80</text>
<text class="t" x="491.92" y="146.75" text-anchor="middle">90</text>
<text class="t" x="514.10" y="146.75" text-anchor="middle">100</text>
<text class="t" x="289.10" y="141.45" text-anchor="end">0.0</text>
<text class="t" x="289.10" y="131.28" text-anchor="end">0.1</text>
<text class="t" x="289.10" y="121.11" text-anchor="end">0.2</text>
<text class="t" x="289.10" y="110.94" text-anchor="end">0.3</text>
<text class="t" x="289.10" y="100.77" text-anchor="end">0.4</text>
<text class="t" x="289.10" y="90.60" text-anchor="end">0.5</text>
<text class="t" x="289.10" y="80.43" text-anchor="end">0.6</text>
<text class="t" x="289.10" y="70.26" text-anchor="end">0.7</text>
<text class="t" x="289.10" y="60.09" text-anchor="end">0.8</text>
<text class="t" x="289.10" y="49.92" text-anchor="end">0.9</text>
<text class="t" x="289.10" y="39.75" text-anchor="end">1.0</text>
<text class="s" x="403.20" y="154.60" text-anchor="middle">Months</text>
<text class="s" x="277.90" y="82.65" text-anchor="middle" textLength="48.90" lengthAdjust="spacing" transform="rotate(-90 277.90 82.65)">Cumulative survival</text>
<text class="s" x="395.00" y="11.40" text-anchor="middle" textLength="85.00" lengthAdjust="spacing">Survival (Kaplan-Meier) of patients with +8</text>
<line x1="351.80" y1="16.25" x2="361.00" y2="16.25" stroke="#686868" stroke-width="0.7"/>
<text class="s" x="363.30" y="17.85" textLength="33.70" lengthAdjust="spacing">+8 isolated (n=42)</text>
<line x1="351.80" y1="21.75" x2="361.00" y2="21.75" stroke="#686868" stroke-width="0.7" stroke-dasharray="5.2 2.7"/>
<text class="s" x="363.30" y="23.35" textLength="75.95" lengthAdjust="spacing">+8 with 1 additional aberration (n=14)</text>
<line x1="351.80" y1="27.00" x2="361.00" y2="27.00" stroke="#686868" stroke-width="0.7" stroke-dasharray="1.9 1.2"/>
<text class="s" x="363.30" y="28.60" textLength="69.95" lengthAdjust="spacing">+8 within complex karyotype (n=24)</text>
<text class="r" x="410.50" y="46.00" textLength="37.00" lengthAdjust="spacing">Log-rank test:</text>
<text class="r" x="410.50" y="59.20" textLength="76.50" lengthAdjust="spacing"><tspan font-style="italic">P</tspan> = .09 (2 degrees of freedom)</text>
<text class="r" x="410.50" y="66.20" textLength="60.75" lengthAdjust="spacing"><tspan font-style="italic">P</tspan> = .005 (isolated vs +1)</text>
<text class="r" x="410.50" y="73.30" textLength="72.50" lengthAdjust="spacing"><tspan font-style="italic">P</tspan> = .71 (isolated vs complex)</text>
<text class="r" x="410.50" y="80.00" textLength="59.50" lengthAdjust="spacing"><tspan font-style="italic">P</tspan> = .12 (+1 vs complex)</text>
<path d="M292.50 38.30H294.10V43.20H296.60V46.50H297.40V51.50H299.90V52.30H300.70V58.90H302.90V63.00H304.00V68.00H310.70V69.70H311.50V78.80H323.00V79.10H323.90V84.50H329.70V84.90H330.50V93.60H332.60V96.10H333.30V100.20H354.50V100.40H354.90V109.70H438.80V109.70H438.80V125.60H461.20V125.60" fill="none" stroke="#686868" stroke-width="0.8" stroke-dasharray="1.9 1.2" stroke-linecap="butt"/>
<path d="M292.90 38.30L292.90 45.60M292.90 45.60L297.30 45.60M300.10 45.60L309.40 45.60M312.20 45.60L321.50 45.60M324.30 45.60L330.70 45.60M330.50 45.60L330.50 48.20M330.60 51.40L330.60 54.30M330.60 54.30L332.40 54.30M332.40 54.30L332.40 58.90M332.40 62.20L336.50 62.20M336.50 62.20L336.50 65.60M336.50 68.90L336.50 70.60M336.60 70.60L341.80 70.60M345.30 70.60L356.80 70.60M356.80 70.60L356.80 82.40M359.00 82.40L368.70 82.40M371.10 82.40L380.80 82.40M383.20 82.40L390.30 82.40M390.30 82.40L390.30 84.60M390.30 88.00L390.30 93.90M390.30 93.90L393.50 93.90M390.30 93.90L391.80 93.90M394.80 93.90L404.60 93.90M407.60 93.90L417.40 93.90M420.40 93.90L430.20 93.90M433.20 93.90L436.50 93.90M436.50 93.90L436.50 109.50M436.50 109.50L440.50 109.50M436.50 109.50L437.00 109.50M440.00 109.50L449.30 109.50M452.30 109.50L461.60 109.50M464.60 109.50L473.90 109.50M476.90 109.50L486.20 109.50M489.20 109.50L495.70 109.50M495.70 109.50L495.70 118.80M495.70 121.00L495.70 132.60M495.70 134.00L495.70 139.60" fill="none" stroke="#686868" stroke-width="0.8"/>
<path d="M292.50 38.30H294.10V42.40H297.40V46.50H300.70V47.40H301.60V54.80H303.20V60.60H305.70V63.00H306.50V67.20H309.80V68.80H310.70V73.00H312.30V74.60H313.10V79.60H314.50V83.90H328.80V84.20H329.70V87.90H341.20V88.20H342.10V92.00H343.70V92.80H344.50V96.10H345.90V99.40H346.50V107.90H357.40V108.30H357.90V112.90H360.70V113.20H361.50V117.00H373.90V117.40H374.40V127.90H401.60V128.10H401.60V139.60" fill="none" stroke="#686868" stroke-width="0.8" stroke-linecap="butt"/>
<line x1="327.00" y1="192.75" x2="327.00" y2="299.40" stroke="#efefef" stroke-width="0.6" stroke-dasharray="0.7 0.7"/>
<line x1="358.60" y1="192.75" x2="358.60" y2="299.40" stroke="#efefef" stroke-width="0.6" stroke-dasharray="0.7 0.7"/>
<line x1="390.20" y1="192.75" x2="390.20" y2="299.40" stroke="#efefef" stroke-width="0.6" stroke-dasharray="0.7 0.7"/>
<line x1="421.80" y1="192.75" x2="421.80" y2="299.40" stroke="#efefef" stroke-width="0.6" stroke-dasharray="0.7 0.7"/>
<line x1="453.40" y1="192.75" x2="453.40" y2="299.40" stroke="#efefef" stroke-width="0.6" stroke-dasharray="0.7 0.7"/>
<line x1="485.00" y1="192.75" x2="485.00" y2="299.40" stroke="#efefef" stroke-width="0.6" stroke-dasharray="0.7 0.7"/>
<line x1="295.40" y1="289.20" x2="516.50" y2="289.20" stroke="#efefef" stroke-width="0.6" stroke-dasharray="0.7 0.7"/>
<line x1="295.40" y1="279.00" x2="516.50" y2="279.00" stroke="#efefef" stroke-width="0.6" stroke-dasharray="0.7 0.7"/>
<line x1="295.40" y1="268.80" x2="516.50" y2="268.80" stroke="#efefef" stroke-width="0.6" stroke-dasharray="0.7 0.7"/>
<line x1="295.40" y1="258.60" x2="516.50" y2="258.60" stroke="#efefef" stroke-width="0.6" stroke-dasharray="0.7 0.7"/>
<line x1="295.40" y1="248.40" x2="516.50" y2="248.40" stroke="#efefef" stroke-width="0.6" stroke-dasharray="0.7 0.7"/>
<line x1="295.40" y1="238.20" x2="516.50" y2="238.20" stroke="#efefef" stroke-width="0.6" stroke-dasharray="0.7 0.7"/>
<line x1="295.40" y1="228.00" x2="516.50" y2="228.00" stroke="#efefef" stroke-width="0.6" stroke-dasharray="0.7 0.7"/>
<line x1="295.40" y1="217.80" x2="516.50" y2="217.80" stroke="#efefef" stroke-width="0.6" stroke-dasharray="0.7 0.7"/>
<line x1="295.40" y1="207.60" x2="516.50" y2="207.60" stroke="#efefef" stroke-width="0.6" stroke-dasharray="0.7 0.7"/>
<line x1="295.40" y1="197.40" x2="516.50" y2="197.40" stroke="#efefef" stroke-width="0.6" stroke-dasharray="0.7 0.7"/>
<path d="M295.40 192.75H516.50V299.40" fill="none" stroke="#909090" stroke-width="1.0"/>
<path d="M295.40 192.75V299.40H516.50" fill="none" stroke="#6c6c6c" stroke-width="1.0"/>
<path d="M295.40 299.40v-1.30M295.40 192.75v1.30" stroke="#555" stroke-width="0.7"/>
<path d="M327.00 299.40v-1.30M327.00 192.75v1.30" stroke="#555" stroke-width="0.7"/>
<path d="M358.60 299.40v-1.30M358.60 192.75v1.30" stroke="#555" stroke-width="0.7"/>
<path d="M390.20 299.40v-1.30M390.20 192.75v1.30" stroke="#555" stroke-width="0.7"/>
<path d="M421.80 299.40v-1.30M421.80 192.75v1.30" stroke="#555" stroke-width="0.7"/>
<path d="M453.40 299.40v-1.30M453.40 192.75v1.30" stroke="#555" stroke-width="0.7"/>
<path d="M485.00 299.40v-1.30M485.00 192.75v1.30" stroke="#555" stroke-width="0.7"/>
<path d="M516.60 299.40v-1.30M516.60 192.75v1.30" stroke="#555" stroke-width="0.7"/>
<path d="M295.40 299.40h1.30M516.50 299.40h-1.30" stroke="#555" stroke-width="0.7"/>
<path d="M295.40 289.20h1.30M516.50 289.20h-1.30" stroke="#555" stroke-width="0.7"/>
<path d="M295.40 279.00h1.30M516.50 279.00h-1.30" stroke="#555" stroke-width="0.7"/>
<path d="M295.40 268.80h1.30M516.50 268.80h-1.30" stroke="#555" stroke-width="0.7"/>
<path d="M295.40 258.60h1.30M516.50 258.60h-1.30" stroke="#555" stroke-width="0.7"/>
<path d="M295.40 248.40h1.30M516.50 248.40h-1.30" stroke="#555" stroke-width="0.7"/>
<path d="M295.40 238.20h1.30M516.50 238.20h-1.30" stroke="#555" stroke-width="0.7"/>
<path d="M295.40 228.00h1.30M516.50 228.00h-1.30" stroke="#555" stroke-width="0.7"/>
<path d="M295.40 217.80h1.30M516.50 217.80h-1.30" stroke="#555" stroke-width="0.7"/>
<path d="M295.40 207.60h1.30M516.50 207.60h-1.30" stroke="#555" stroke-width="0.7"/>
<path d="M295.40 197.40h1.30M516.50 197.40h-1.30" stroke="#555" stroke-width="0.7"/>
<path d="M295.40 297.36h0.80M516.50 297.36h-0.80M295.40 295.32h0.80M516.50 295.32h-0.80M295.40 293.28h0.80M516.50 293.28h-0.80M295.40 291.24h0.80M516.50 291.24h-0.80M295.40 287.16h0.80M516.50 287.16h-0.80M295.40 285.12h0.80M516.50 285.12h-0.80M295.40 283.08h0.80M516.50 283.08h-0.80M295.40 281.04h0.80M516.50 281.04h-0.80M295.40 276.96h0.80M516.50 276.96h-0.80M295.40 274.92h0.80M516.50 274.92h-0.80M295.40 272.88h0.80M516.50 272.88h-0.80M295.40 270.84h0.80M516.50 270.84h-0.80M295.40 266.76h0.80M516.50 266.76h-0.80M295.40 264.72h0.80M516.50 264.72h-0.80M295.40 262.68h0.80M516.50 262.68h-0.80M295.40 260.64h0.80M516.50 260.64h-0.80M295.40 256.56h0.80M516.50 256.56h-0.80M295.40 254.52h0.80M516.50 254.52h-0.80M295.40 252.48h0.80M516.50 252.48h-0.80M295.40 250.44h0.80M516.50 250.44h-0.80M295.40 246.36h0.80M516.50 246.36h-0.80M295.40 244.32h0.80M516.50 244.32h-0.80M295.40 242.28h0.80M516.50 242.28h-0.80M295.40 240.24h0.80M516.50 240.24h-0.80M295.40 236.16h0.80M516.50 236.16h-0.80M295.40 234.12h0.80M516.50 234.12h-0.80M295.40 232.08h0.80M516.50 232.08h-0.80M295.40 230.04h0.80M516.50 230.04h-0.80M295.40 225.96h0.80M516.50 225.96h-0.80M295.40 223.92h0.80M516.50 223.92h-0.80M295.40 221.88h0.80M516.50 221.88h-0.80M295.40 219.84h0.80M516.50 219.84h-0.80M295.40 215.76h0.80M516.50 215.76h-0.80M295.40 213.72h0.80M516.50 213.72h-0.80M295.40 211.68h0.80M516.50 211.68h-0.80M295.40 209.64h0.80M516.50 209.64h-0.80M295.40 205.56h0.80M516.50 205.56h-0.80M295.40 203.52h0.80M516.50 203.52h-0.80M295.40 201.48h0.80M516.50 201.48h-0.80M295.40 199.44h0.80M516.50 199.44h-0.80M295.40 195.36h0.80M516.50 195.36h-0.80M295.40 193.32h0.80M516.50 193.32h-0.80M301.72 299.40v-0.80M301.72 192.75v0.80M308.04 299.40v-0.80M308.04 192.75v0.80M314.36 299.40v-0.80M314.36 192.75v0.80M320.68 299.40v-0.80M320.68 192.75v0.80M333.32 299.40v-0.80M333.32 192.75v0.80M339.64 299.40v-0.80M339.64 192.75v0.80M345.96 299.40v-0.80M345.96 192.75v0.80M352.28 299.40v-0.80M352.28 192.75v0.80M364.92 299.40v-0.80M364.92 192.75v0.80M371.24 299.40v-0.80M371.24 192.75v0.80M377.56 299.40v-0.80M377.56 192.75v0.80M383.88 299.40v-0.80M383.88 192.75v0.80M396.52 299.40v-0.80M396.52 192.75v0.80M402.84 299.40v-0.80M402.84 192.75v0.80M409.16 299.40v-0.80M409.16 192.75v0.80M415.48 299.40v-0.80M415.48 192.75v0.80M428.12 299.40v-0.80M428.12 192.75v0.80M434.44 299.40v-0.80M434.44 192.75v0.80M440.76 299.40v-0.80M440.76 192.75v0.80M447.08 299.40v-0.80M447.08 192.75v0.80M459.72 299.40v-0.80M459.72 192.75v0.80M466.04 299.40v-0.80M466.04 192.75v0.80M472.36 299.40v-0.80M472.36 192.75v0.80M478.68 299.40v-0.80M478.68 192.75v0.80M491.32 299.40v-0.80M491.32 192.75v0.80M497.64 299.40v-0.80M497.64 192.75v0.80M503.96 299.40v-0.80M503.96 192.75v0.80M510.28 299.40v-0.80M510.28 192.75v0.80" stroke="#606060" stroke-width="0.55" fill="none"/>
<text class="t" x="295.40" y="306.35" text-anchor="middle">0</text>
<text class="t" x="327.00" y="306.35" text-anchor="middle">20</text>
<text class="t" x="358.60" y="306.35" text-anchor="middle">40</text>
<text class="t" x="390.20" y="306.35" text-anchor="middle">60</text>
<text class="t" x="421.80" y="306.35" text-anchor="middle">80</text>
<text class="t" x="453.40" y="306.35" text-anchor="middle">100</text>
<text class="t" x="485.00" y="306.35" text-anchor="middle">120</text>
<text class="t" x="516.60" y="306.35" text-anchor="middle">140</text>
<text class="t" x="292.10" y="301.25" text-anchor="end">0.0</text>
<text class="t" x="292.10" y="291.05" text-anchor="end">0.1</text>
<text class="t" x="292.10" y="280.85" text-anchor="end">0.2</text>
<text class="t" x="292.10" y="270.65" text-anchor="end">0.3</text>
<text class="t" x="292.10" y="260.45" text-anchor="end">0.4</text>
<text class="t" x="292.10" y="250.25" text-anchor="end">0.5</text>
<text class="t" x="292.10" y="240.05" text-anchor="end">0.6</text>
<text class="t" x="292.10" y="229.85" text-anchor="end">0.7</text>
<text class="t" x="292.10" y="219.65" text-anchor="end">0.8</text>
<text class="t" x="292.10" y="209.45" text-anchor="end">0.9</text>
<text class="t" x="292.10" y="199.25" text-anchor="end">1.0</text>
<text class="s" x="405.95" y="314.30" text-anchor="middle">Months</text>
<text class="s" x="280.70" y="241.30" text-anchor="middle" textLength="48.80" lengthAdjust="spacing" transform="rotate(-90 280.70 241.30)">Cumulative survival</text>
<text class="s" x="398.00" y="171.20" text-anchor="middle" textLength="105.00" lengthAdjust="spacing">Survival (Kaplan-Meier) of patients with -20/del(20q)</text>
<line x1="346.30" y1="176.25" x2="355.60" y2="176.25" stroke="#686868" stroke-width="0.7"/>
<text class="s" x="357.80" y="177.85" textLength="65.95" lengthAdjust="spacing">-20/del(20q) noncomplex (n=23)</text>
<line x1="346.30" y1="181.75" x2="355.60" y2="181.75" stroke="#686868" stroke-width="0.7" stroke-dasharray="5.2 2.7"/>
<text class="s" x="357.80" y="183.35" textLength="90.20" lengthAdjust="spacing">-20/del(20q) within complex karyotype (n=22)</text>
<text class="r" x="412.50" y="215.40" textLength="36.25" lengthAdjust="spacing">Log-rank test:</text>
<text class="r" x="411.80" y="229.00" textLength="87.00" lengthAdjust="spacing"><tspan font-style="italic">P</tspan> = .005 (noncomplex vs complex)</text>
<path d="M295.50 203.20L300.20 203.20M300.40 205.80L300.40 208.90M301.40 209.40L301.40 214.10M303.10 215.10L303.10 224.40M303.10 228.00L303.10 232.40M303.10 232.40L306.90 232.40M307.90 234.70L307.90 238.60M307.90 239.40L310.20 239.40M310.40 239.40L310.40 245.40M310.40 245.60L313.30 245.60M313.90 246.60L313.90 252.20M313.90 252.60L316.20 252.60M316.90 253.40L316.90 259.40M316.90 259.90L318.60 259.90M319.00 260.20L319.00 265.40M319.00 265.60L322.00 265.60M324.20 265.60L327.10 265.60M327.10 265.60L327.10 282.40M327.10 282.40L329.50 282.40M327.10 282.40L329.50 282.40M332.30 282.40L341.60 282.40M344.40 282.40L353.70 282.40M356.50 282.40L365.80 282.40M368.60 282.40L377.90 282.40M380.70 282.40L390.00 282.40M392.80 282.40L402.10 282.40M404.90 282.40L414.20 282.40" fill="none" stroke="#686868" stroke-width="0.8"/>
<path d="M295.50 197.80H302.90V197.80H303.20V201.90H308.20V202.20H308.70V206.90H312.50V207.20H312.80V212.30H315.00V212.60H315.30V217.30H326.10V217.60H326.60V223.10H330.20V223.40H330.70V228.80H331.80V234.60H343.00V234.60H343.40V241.00H393.20V241.00H393.20V251.00H407.00V251.00H407.00V263.00H459.50V263.00H459.50V281.30H471.00V281.30H471.00V299.40" fill="none" stroke="#686868" stroke-width="0.8" stroke-linecap="butt"/>
<line x1="183.00" y1="337.75" x2="183.00" y2="468.00" stroke="#efefef" stroke-width="0.6" stroke-dasharray="0.7 0.7"/>
<line x1="207.70" y1="337.75" x2="207.70" y2="468.00" stroke="#efefef" stroke-width="0.6" stroke-dasharray="0.7 0.7"/>
<line x1="232.40" y1="337.75" x2="232.40" y2="468.00" stroke="#efefef" stroke-width="0.6" stroke-dasharray="0.7 0.7"/>
<line x1="257.10" y1="337.75" x2="257.10" y2="468.00" stroke="#efefef" stroke-width="0.6" stroke-dasharray="0.7 0.7"/>
<line x1="281.80" y1="337.75" x2="281.80" y2="468.00" stroke="#efefef" stroke-width="0.6" stroke-dasharray="0.7 0.7"/>
<line x1="306.50" y1="337.75" x2="306.50" y2="468.00" stroke="#efefef" stroke-width="0.6" stroke-dasharray="0.7 0.7"/>
<line x1="331.20" y1="337.75" x2="331.20" y2="468.00" stroke="#efefef" stroke-width="0.6" stroke-dasharray="0.7 0.7"/>
<line x1="355.90" y1="337.75" x2="355.90" y2="468.00" stroke="#efefef" stroke-width="0.6" stroke-dasharray="0.7 0.7"/>
<line x1="158.30" y1="455.53" x2="380.60" y2="455.53" stroke="#efefef" stroke-width="0.6" stroke-dasharray="0.7 0.7"/>
<line x1="158.30" y1="443.06" x2="380.60" y2="443.06" stroke="#efefef" stroke-width="0.6" stroke-dasharray="0.7 0.7"/>
<line x1="158.30" y1="430.59" x2="380.60" y2="430.59" stroke="#efefef" stroke-width="0.6" stroke-dasharray="0.7 0.7"/>
<line x1="158.30" y1="418.12" x2="380.60" y2="418.12" stroke="#efefef" stroke-width="0.6" stroke-dasharray="0.7 0.7"/>
<line x1="158.30" y1="405.65" x2="380.60" y2="405.65" stroke="#efefef" stroke-width="0.6" stroke-dasharray="0.7 0.7"/>
<line x1="158.30" y1="393.18" x2="380.60" y2="393.18" stroke="#efefef" stroke-width="0.6" stroke-dasharray="0.7 0.7"/>
<line x1="158.30" y1="380.71" x2="380.60" y2="380.71" stroke="#efefef" stroke-width="0.6" stroke-dasharray="0.7 0.7"/>
<line x1="158.30" y1="368.24" x2="380.60" y2="368.24" stroke="#efefef" stroke-width="0.6" stroke-dasharray="0.7 0.7"/>
<line x1="158.30" y1="355.77" x2="380.60" y2="355.77" stroke="#efefef" stroke-width="0.6" stroke-dasharray="0.7 0.7"/>
<line x1="158.30" y1="343.30" x2="380.60" y2="343.30" stroke="#efefef" stroke-width="0.6" stroke-dasharray="0.7 0.7"/>
<path d="M158.30 337.75H380.60V468.00" fill="none" stroke="#909090" stroke-width="1.0"/>
<path d="M158.30 337.75V468.00H380.60" fill="none" stroke="#6c6c6c" stroke-width="1.0"/>
<path d="M158.30 468.00v-1.30M158.30 337.75v1.30" stroke="#555" stroke-width="0.7"/>
<path d="M183.00 468.00v-1.30M183.00 337.75v1.30" stroke="#555" stroke-width="0.7"/>
<path d="M207.70 468.00v-1.30M207.70 337.75v1.30" stroke="#555" stroke-width="0.7"/>
<path d="M232.40 468.00v-1.30M232.40 337.75v1.30" stroke="#555" stroke-width="0.7"/>
<path d="M257.10 468.00v-1.30M257.10 337.75v1.30" stroke="#555" stroke-width="0.7"/>
<path d="M281.80 468.00v-1.30M281.80 337.75v1.30" stroke="#555" stroke-width="0.7"/>
<path d="M306.50 468.00v-1.30M306.50 337.75v1.30" stroke="#555" stroke-width="0.7"/>
<path d="M331.20 468.00v-1.30M331.20 337.75v1.30" stroke="#555" stroke-width="0.7"/>
<path d="M355.90 468.00v-1.30M355.90 337.75v1.30" stroke="#555" stroke-width="0.7"/>
<path d="M380.60 468.00v-1.30M380.60 337.75v1.30" stroke="#555" stroke-width="0.7"/>
<path d="M158.30 468.00h1.30M380.60 468.00h-1.30" stroke="#555" stroke-width="0.7"/>
<path d="M158.30 455.53h1.30M380.60 455.53h-1.30" stroke="#555" stroke-width="0.7"/>
<path d="M158.30 443.06h1.30M380.60 443.06h-1.30" stroke="#555" stroke-width="0.7"/>
<path d="M158.30 430.59h1.30M380.60 430.59h-1.30" stroke="#555" stroke-width="0.7"/>
<path d="M158.30 418.12h1.30M380.60 418.12h-1.30" stroke="#555" stroke-width="0.7"/>
<path d="M158.30 405.65h1.30M380.60 405.65h-1.30" stroke="#555" stroke-width="0.7"/>
<path d="M158.30 393.18h1.30M380.60 393.18h-1.30" stroke="#555" stroke-width="0.7"/>
<path d="M158.30 380.71h1.30M380.60 380.71h-1.30" stroke="#555" stroke-width="0.7"/>
<path d="M158.30 368.24h1.30M380.60 368.24h-1.30" stroke="#555" stroke-width="0.7"/>
<path d="M158.30 355.77h1.30M380.60 355.77h-1.30" stroke="#555" stroke-width="0.7"/>
<path d="M158.30 343.30h1.30M380.60 343.30h-1.30" stroke="#555" stroke-width="0.7"/>
<path d="M158.30 465.51h0.80M380.60 465.51h-0.80M158.30 463.01h0.80M380.60 463.01h-0.80M158.30 460.52h0.80M380.60 460.52h-0.80M158.30 458.02h0.80M380.60 458.02h-0.80M158.30 453.04h0.80M380.60 453.04h-0.80M158.30 450.54h0.80M380.60 450.54h-0.80M158.30 448.05h0.80M380.60 448.05h-0.80M158.30 445.55h0.80M380.60 445.55h-0.80M158.30 440.57h0.80M380.60 440.57h-0.80M158.30 438.07h0.80M380.60 438.07h-0.80M158.30 435.58h0.80M380.60 435.58h-0.80M158.30 433.08h0.80M380.60 433.08h-0.80M158.30 428.10h0.80M380.60 428.10h-0.80M158.30 425.60h0.80M380.60 425.60h-0.80M158.30 423.11h0.80M380.60 423.11h-0.80M158.30 420.61h0.80M380.60 420.61h-0.80M158.30 415.63h0.80M380.60 415.63h-0.80M158.30 413.13h0.80M380.60 413.13h-0.80M158.30 410.64h0.80M380.60 410.64h-0.80M158.30 408.14h0.80M380.60 408.14h-0.80M158.30 403.16h0.80M380.60 403.16h-0.80M158.30 400.66h0.80M380.60 400.66h-0.80M158.30 398.17h0.80M380.60 398.17h-0.80M158.30 395.67h0.80M380.60 395.67h-0.80M158.30 390.69h0.80M380.60 390.69h-0.80M158.30 388.19h0.80M380.60 388.19h-0.80M158.30 385.70h0.80M380.60 385.70h-0.80M158.30 383.20h0.80M380.60 383.20h-0.80M158.30 378.22h0.80M380.60 378.22h-0.80M158.30 375.72h0.80M380.60 375.72h-0.80M158.30 373.23h0.80M380.60 373.23h-0.80M158.30 370.73h0.80M380.60 370.73h-0.80M158.30 365.75h0.80M380.60 365.75h-0.80M158.30 363.25h0.80M380.60 363.25h-0.80M158.30 360.76h0.80M380.60 360.76h-0.80M158.30 358.26h0.80M380.60 358.26h-0.80M158.30 353.28h0.80M380.60 353.28h-0.80M158.30 350.78h0.80M380.60 350.78h-0.80M158.30 348.29h0.80M380.60 348.29h-0.80M158.30 345.79h0.80M380.60 345.79h-0.80M158.30 340.81h0.80M380.60 340.81h-0.80M158.30 338.31h0.80M380.60 338.31h-0.80M163.24 468.00v-0.80M163.24 337.75v0.80M168.18 468.00v-0.80M168.18 337.75v0.80M173.12 468.00v-0.80M173.12 337.75v0.80M178.06 468.00v-0.80M178.06 337.75v0.80M187.94 468.00v-0.80M187.94 337.75v0.80M192.88 468.00v-0.80M192.88 337.75v0.80M197.82 468.00v-0.80M197.82 337.75v0.80M202.76 468.00v-0.80M202.76 337.75v0.80M212.64 468.00v-0.80M212.64 337.75v0.80M217.58 468.00v-0.80M217.58 337.75v0.80M222.52 468.00v-0.80M222.52 337.75v0.80M227.46 468.00v-0.80M227.46 337.75v0.80M237.34 468.00v-0.80M237.34 337.75v0.80M242.28 468.00v-0.80M242.28 337.75v0.80M247.22 468.00v-0.80M247.22 337.75v0.80M252.16 468.00v-0.80M252.16 337.75v0.80M262.04 468.00v-0.80M262.04 337.75v0.80M266.98 468.00v-0.80M266.98 337.75v0.80M271.92 468.00v-0.80M271.92 337.75v0.80M276.86 468.00v-0.80M276.86 337.75v0.80M286.74 468.00v-0.80M286.74 337.75v0.80M291.68 468.00v-0.80M291.68 337.75v0.80M296.62 468.00v-0.80M296.62 337.75v0.80M301.56 468.00v-0.80M301.56 337.75v0.80M311.44 468.00v-0.80M311.44 337.75v0.80M316.38 468.00v-0.80M316.38 337.75v0.80M321.32 468.00v-0.80M321.32 337.75v0.80M326.26 468.00v-0.80M326.26 337.75v0.80M336.14 468.00v-0.80M336.14 337.75v0.80M341.08 468.00v-0.80M341.08 337.75v0.80M346.02 468.00v-0.80M346.02 337.75v0.80M350.96 468.00v-0.80M350.96 337.75v0.80M360.84 468.00v-0.80M360.84 337.75v0.80M365.78 468.00v-0.80M365.78 337.75v0.80M370.72 468.00v-0.80M370.72 337.75v0.80M375.66 468.00v-0.80M375.66 337.75v0.80" stroke="#606060" stroke-width="0.55" fill="none"/>
<text class="t" x="158.30" y="475.35" text-anchor="middle">0</text>
<text class="t" x="183.00" y="475.35" text-anchor="middle">10</text>
<text class="t" x="207.70" y="475.35" text-anchor="middle">20</text>
<text class="t" x="232.40" y="475.35" text-anchor="middle">30</text>
<text class="t" x="257.10" y="475.35" text-anchor="middle">40</text>
<text class="t" x="281.80" y="475.35" text-anchor="middle">50</text>
<text class="t" x="306.50" y="475.35" text-anchor="middle">60</text>
<text class="t" x="331.20" y="475.35" text-anchor="middle">70</text>
<text class="t" x="355.90" y="475.35" text-anchor="middle">80</text>
<text class="t" x="380.60" y="475.35" text-anchor="middle">90</text>
<text class="t" x="155.40" y="469.85" text-anchor="end">0.0</text>
<text class="t" x="155.40" y="457.38" text-anchor="end">0.1</text>
<text class="t" x="155.40" y="444.91" text-anchor="end">0.2</text>
<text class="t" x="155.40" y="432.44" text-anchor="end">0.3</text>
<text class="t" x="155.40" y="419.97" text-anchor="end">0.4</text>
<text class="t" x="155.40" y="407.50" text-anchor="end">0.5</text>
<text class="t" x="155.40" y="395.03" text-anchor="end">0.6</text>
<text class="t" x="155.40" y="382.56" text-anchor="end">0.7</text>
<text class="t" x="155.40" y="370.09" text-anchor="end">0.8</text>
<text class="t" x="155.40" y="357.62" text-anchor="end">0.9</text>
<text class="t" x="155.40" y="345.15" text-anchor="end">1.0</text>
<text class="s" x="269.45" y="483.40" text-anchor="middle">Months</text>
<text class="s" x="143.10" y="398.45" text-anchor="middle" textLength="49.70" lengthAdjust="spacing" transform="rotate(-90 143.10 398.45)">Cumulative survival</text>
<text class="s" x="261.80" y="333.80" text-anchor="middle" textLength="150.00" lengthAdjust="spacing">Survival (Kaplan-Meier) of patients with -Y (noncomplex karyotypes, n=37)</text>
<path d="M158.80 343.50H170.70V347.80H172.30V352.40H177.80V352.80H178.70V356.60H184.60V357.00H185.30V362.10H192.70V362.50H193.50V367.20H194.80V371.40H205.30V371.80H206.00V376.50H218.50V376.90H219.10V381.10H227.40V381.50H228.20V386.20H239.60V386.60H240.30V392.00H247.40V392.40H248.00V404.00H254.80V404.50H255.40V410.00H263.70V410.40H264.30V416.30H282.30V416.70H282.90V423.10H295.00V423.50H295.60V429.40H367.50V429.40H367.50V448.60H375.60V448.60H375.60V468.00" fill="none" stroke="#707070" stroke-width="0.75" stroke-linecap="butt"/>
</g></svg></body></html>
